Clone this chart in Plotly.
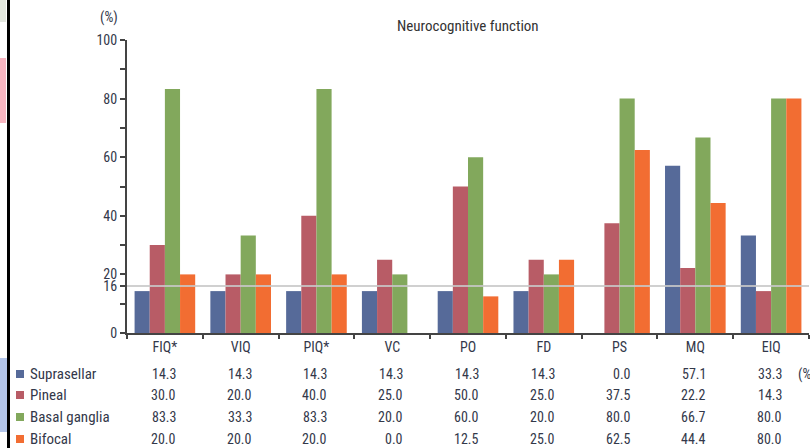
import plotly.graph_objects as go

categories = ["FIQ*", "VIQ", "PIQ*", "VC", "PO", "FD", "PS", "MQ", "EIQ"]
series_names = ["Suprasellar", "Pineal", "Basal ganglia", "Bifocal"]
suprasellar = [14.3, 14.3, 14.3, 14.3, 14.3, 14.3, 0.0, 57.1, 33.3]
pineal = [30.0, 20.0, 40.0, 25.0, 50.0, 25.0, 37.5, 22.2, 14.3]
basal_ganglia = [83.3, 33.3, 83.3, 20.0, 60.0, 20.0, 80.0, 66.7, 80.0]
bifocal = [20.0, 20.0, 20.0, 0.0, 12.5, 25.0, 62.5, 44.4, 80.0]
colors = ["#566a99", "#b85c66", "#82a85c", "#f26d32"]
y_tickvals = [0, 16, 20, 40, 60, 80, 100]
reference_level = 16

W, H = 810, 448
L, R, T, B = 127, 1, 40, 115
pw, ph = W - L - R, H - T - B

def px(x):
    return (x - L) / pw

def py(y):
    return (H - B - y) / ph

font = "Liberation Sans Narrow, Roboto Condensed, Arial Narrow, Liberation Sans, sans-serif"
tc = "#33384a"

all_series = [suprasellar, pineal, basal_ganglia, bifocal]
fig = go.Figure()
for name, vals, c in zip(series_names, all_series, colors):
    fig.add_trace(go.Bar(x=categories, y=vals, name=name, marker=dict(color=c, line=dict(width=0)),
                         showlegend=False))

shapes = []
annotations = []
# reference line
shapes.append(dict(type="line", xref="paper", yref="y", x0=0, x1=1, y0=reference_level, y1=reference_level,
                   line=dict(color="rgba(200,200,200,0.85)", width=2), layer="above"))

# table rows
row_y = [374, 395, 417, 439]
for i, (name, vals, c) in enumerate(zip(series_names, all_series, colors)):
    yp = py(row_y[i])
    shapes.append(dict(type="rect", xref="paper", yref="paper", x0=px(16), x1=px(24),
                       y0=py(row_y[i] + 4), y1=py(row_y[i] - 4), fillcolor=c, line=dict(width=0)))
    annotations.append(dict(xref="paper", yref="paper", x=px(28), y=yp, text=name, showarrow=False,
                            xanchor="left", yanchor="middle", font=dict(size=15, color=tc, family=font)))
    for cat, v in zip(categories, vals):
        annotations.append(dict(xref="x", yref="paper", x=cat, y=yp, text=f"{v:.1f}", showarrow=False,
                                xanchor="right", yanchor="middle", xshift=13,
                                font=dict(size=14, color=tc, family=font)))
annotations.append(dict(xref="paper", yref="paper", x=px(796), y=py(row_y[0]), text="(%", showarrow=False,
                        xanchor="left", yanchor="middle", font=dict(size=14, color=tc, family=font)))
annotations.append(dict(xref="paper", yref="paper", x=px(120), y=py(18), text="(%)", showarrow=False,
                        xanchor="right", yanchor="middle", font=dict(size=14, color=tc, family=font)))
annotations.append(dict(xref="paper", yref="paper", x=px(468), y=py(26), text="Neurocognitive function",
                        showarrow=False, xanchor="center", yanchor="middle",
                        font=dict(size=15, color="#333333", family=font)))

# page crop artifacts on the left edge
shapes.append(dict(type="rect", xref="paper", yref="paper", x0=px(0), x1=px(6), y0=py(22), y1=py(0),
                   fillcolor="#e3e7df", line=dict(width=0)))
shapes.append(dict(type="rect", xref="paper", yref="paper", x0=px(0), x1=px(6), y0=py(123), y1=py(58),
                   fillcolor="#f7b5c0", line=dict(width=0)))
shapes.append(dict(type="rect", xref="paper", yref="paper", x0=px(0), x1=px(7), y0=py(432), y1=py(358),
                   fillcolor="#b3c5ea", line=dict(width=0)))
shapes.append(dict(type="rect", xref="paper", yref="paper", x0=px(7), x1=px(10), y0=py(448), y1=py(0),
                   fillcolor="#000000", line=dict(width=0)))

fig.update_layout(
    width=W, height=H, margin=dict(l=L, r=R, t=T, b=B, pad=0),
    paper_bgcolor="white", plot_bgcolor="white",
    barmode="group", bargap=0.2, bargroupgap=0,
    shapes=shapes, annotations=annotations,
    font=dict(family=font, color=tc, size=13),
)
fig.update_xaxes(type="category", range=[-0.5, 8.5], showline=True, linecolor="#444444", linewidth=2,
                 ticks="outside", tickson="boundaries", ticklen=4, tickcolor="#444444", tickwidth=2,
                 showgrid=False, zeroline=False, tickfont=dict(size=14, color=tc, family=font))
fig.update_yaxes(range=[0, 100], showline=True, linecolor="#444444", linewidth=2,
                 tickmode="array", tickvals=y_tickvals, ticktext=[str(v) for v in y_tickvals],
                 ticks="outside", ticklen=5, tickcolor="#444444", tickwidth=2,
                 minor=dict(tickvals=[10, 30, 50, 70, 90], ticks="outside", ticklen=5, tickcolor="#444444",
                            tickwidth=2),
                 showgrid=False, zeroline=False, tickfont=dict(size=14, color=tc, family=font))

fig.write_html("out.html", config={"displayModeBar": False},
               post_script="document.body.style.margin='0';document.body.style.padding='0';"
                           "document.body.style.overflow='hidden';")
